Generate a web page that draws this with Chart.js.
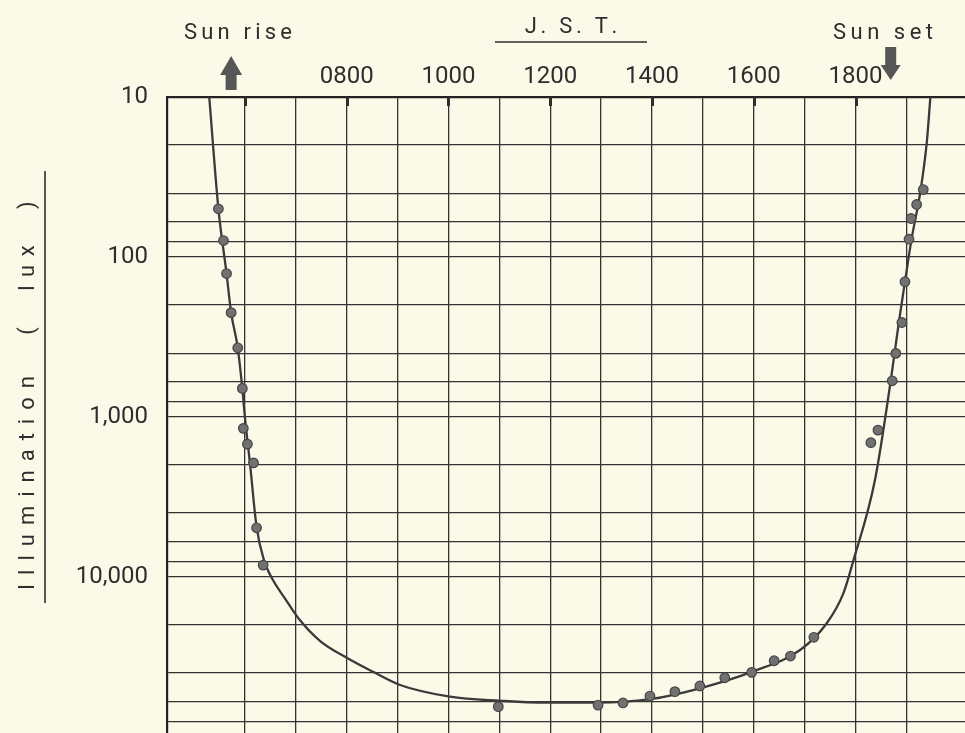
<!DOCTYPE html>
<html>
<head>
<meta charset="utf-8">
<title>Illumination J.S.T.</title>
<script src="https://cdn.jsdelivr.net/npm/chart.js@4.4.1/dist/chart.umd.min.js"></script>
<style>
    html, body { margin: 0; padding: 0; background: #fbfae8; overflow: hidden; }
    #wrap { width: 965px; height: 733px; }
</style>
</head>
<body>
<div id="wrap"><canvas id="luxChart" width="965" height="733"></canvas></div>
<script>
// measured points: hour of day (J.S.T., decimal) and illumination in lux
var obsHours = [5.48, 5.58, 5.64, 5.73, 5.86, 5.95, 5.97, 6.05, 6.17, 6.23, 6.36,
    10.98, 12.94, 13.43, 13.96, 14.45, 14.94, 15.43, 15.96, 16.40, 16.72, 17.18,
    18.30, 18.44, 18.72, 18.79, 18.91, 18.97, 19.05, 19.09, 19.20, 19.33];
var obsLux = [50, 79, 127, 223, 370, 664, 1180, 1480, 1940, 4940, 8450,
    64900, 63400, 61500, 55700, 52300, 48200, 42800, 39600, 33500, 31300, 23900,
    1450, 1210, 595, 401, 257, 143, 77.5, 57.5, 47, 37.9];

// the hand drawn fitted curve
var curveHours = [5.30, 5.48, 5.64, 5.73, 5.86, 5.95, 6.00, 6.10, 6.23, 6.375, 6.53,
    6.81, 7.08, 7.48, 8.01, 8.52, 9.05, 10.03, 10.98, 11.99, 12.94, 13.96, 14.94, 15.96,
    16.91, 17.43, 17.76, 17.95, 18.38, 18.69, 18.85, 18.97, 19.10, 19.28, 19.40, 19.47];
var curveLux = [10, 50, 127, 223, 370, 664, 1000, 1950, 4870, 7860, 10190,
    13980, 18650, 25230, 32210, 39300, 47500, 56200, 59600, 61300, 61300, 58300, 49800, 39300,
    28700, 19600, 12700, 8050, 2490, 596, 257, 143, 77.4, 37.9, 19.1, 10];

var hourLines = [6, 7, 8, 9, 10, 11, 12, 13, 14, 15, 16, 17, 18, 19];
var hourLabels = { 8: '0800', 10: '1000', 12: '1200', 14: '1400', 16: '1600', 18: '1800' };
var luxLines = [10, 20, 40, 60, 80, 100, 200, 400, 600, 800, 1000, 2000, 4000, 6000, 8000,
    10000, 20000, 40000, 60000, 80000];
var luxLabels = { 10: '10', 100: '100', 1000: '1,000', 10000: '10,000' };

var sunRise = 5.73;
var sunSet = 18.69;

var ink = '#2e2e2e';

function spacedText(ctx, text, cx, y, gap) {
    var w = 0, i;
    for (i = 0; i < text.length; i++) w += ctx.measureText(text[i]).width;
    w += gap * (text.length - 1);
    var x = cx - w / 2;
    ctx.textAlign = 'left';
    for (i = 0; i < text.length; i++) {
        ctx.fillText(text[i], x, y);
        x += ctx.measureText(text[i]).width + gap;
    }
    return w;
}

var extras = {
    id: 'extras',
    afterDraw: function (chart) {
        var ctx = chart.ctx;
        var xs = chart.scales.x;
        var top = chart.chartArea.top;
        ctx.save();

        // short marks under the top border at the labelled hours
        ctx.strokeStyle = ink;
        ctx.lineWidth = 3;
        hourLines.forEach(function (h) {
            if (h % 2 === 0) {
                var px = Math.round(xs.getPixelForValue(h)) + 0.5;
                ctx.beginPath();
                ctx.moveTo(px, top);
                ctx.lineTo(px, top + 9);
                ctx.stroke();
            }
        });

        ctx.fillStyle = ink;
        ctx.font = '22px Roboto';
        ctx.textBaseline = 'alphabetic';
        spacedText(ctx, 'Sun rise', 238, 39, 4.2);
        spacedText(ctx, 'J. S. T.', 571, 33, 3.7);
        spacedText(ctx, 'Sun set', 883, 39, 4.5);

        ctx.lineWidth = 1.6;
        ctx.beginPath();
        ctx.moveTo(495, 42);
        ctx.lineTo(647, 42);
        ctx.stroke();

        // sun rise / sun set arrows
        ctx.fillStyle = '#565656';
        var ax = xs.getPixelForValue(sunRise);
        ctx.beginPath();
        ctx.moveTo(ax, 56);
        ctx.lineTo(ax + 11, 75);
        ctx.lineTo(ax + 5.5, 75);
        ctx.lineTo(ax + 5.5, 90);
        ctx.lineTo(ax - 5.5, 90);
        ctx.lineTo(ax - 5.5, 75);
        ctx.lineTo(ax - 11, 75);
        ctx.closePath();
        ctx.fill();

        var bx = xs.getPixelForValue(sunSet);
        ctx.beginPath();
        ctx.moveTo(bx, 80);
        ctx.lineTo(bx + 10, 65);
        ctx.lineTo(bx + 5.5, 65);
        ctx.lineTo(bx + 5.5, 47);
        ctx.lineTo(bx - 5.5, 47);
        ctx.lineTo(bx - 5.5, 65);
        ctx.lineTo(bx - 10, 65);
        ctx.closePath();
        ctx.fill();

        // y axis title, rotated, with the line beside it
        ctx.fillStyle = ink;
        ctx.font = '22px Roboto';
        ctx.translate(34, 388);
        ctx.rotate(-Math.PI / 2);
        spacedText(ctx, 'Illumination', -95, 0, 9);
        spacedText(ctx, '(  lux  )', 120, 0, 8.5);
        ctx.restore();

        ctx.save();
        ctx.strokeStyle = ink;
        ctx.lineWidth = 1.6;
        ctx.beginPath();
        ctx.moveTo(45, 171);
        ctx.lineTo(45, 603);
        ctx.stroke();
        ctx.restore();
    }
};

var obsData = obsHours.map(function (h, i) { return { x: h, y: obsLux[i] }; });
var curveData = curveHours.map(function (h, i) { return { x: h, y: curveLux[i] }; });

var ctx = document.getElementById('luxChart').getContext('2d');
var chart = new Chart(ctx, {
    type: 'scatter',
    data: {
        datasets: [{
            label: 'measured',
            data: obsData,
            pointRadius: 4.8,
            backgroundColor: '#717171',
            borderColor: '#454545',
            borderWidth: 1.2
        }, {
            label: 'curve',
            type: 'line',
            data: curveData,
            borderColor: '#3a3a3a',
            borderWidth: 2.3,
            pointRadius: 0,
            fill: false,
            cubicInterpolationMode: 'monotone'
        }]
    },
    options: {
        responsive: false,
        animation: false,
        devicePixelRatio: 1,
        layout: { padding: 0, autoPadding: false },
        plugins: { legend: { display: false }, tooltip: { enabled: false } },
        scales: {
            x: {
                type: 'linear',
                position: 'top',
                min: 4.47,
                max: 20.15,
                afterBuildTicks: function (s) {
                    s.ticks = hourLines.map(function (v) { return { value: v }; });
                },
                afterFit: function (s) {
                    s.height = 97;
                    s.paddingLeft = 0;
                    s.paddingRight = 0;
                },
                ticks: {
                    autoSkip: false,
                    maxRotation: 0,
                    padding: 6,
                    color: ink,
                    font: { family: 'Roboto', size: 24 },
                    callback: function (v) { return hourLabels[v] || ''; }
                },
                grid: { color: '#333', lineWidth: 1.3, drawTicks: false },
                border: { color: '#222', width: 2.2 }
            },
            y: {
                type: 'logarithmic',
                reverse: true,
                min: 10,
                max: 94800,
                afterBuildTicks: function (s) {
                    s.ticks = luxLines.map(function (v) { return { value: v }; });
                },
                afterFit: function (s) {
                    s.width = 167;
                    s.paddingTop = 0;
                    s.paddingBottom = 0;
                },
                ticks: {
                    autoSkip: false,
                    padding: 19,
                    color: ink,
                    font: { family: 'Roboto', size: 24 },
                    callback: function (v) { return luxLabels[v] || ''; }
                },
                grid: { color: '#333', lineWidth: 1.3, drawTicks: false },
                border: { color: '#222', width: 2.2 }
            }
        }
    },
    plugins: [extras]
});
</script>
</body>
</html>
